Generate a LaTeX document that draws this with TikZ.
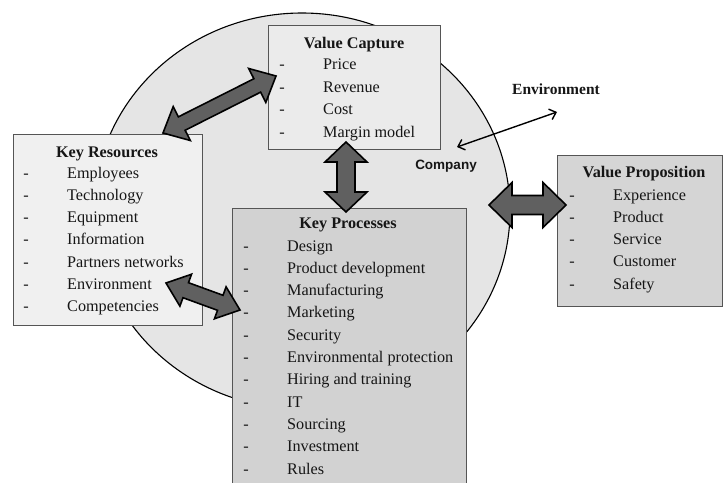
\documentclass[tikz,border=0pt]{standalone}
\usepackage{fontspec}
\setmainfont{Liberation Serif}
\newfontfamily\compfont{Liberation Sans}
\usetikzlibrary{calc,arrows.meta}
\definecolor{circfill}{HTML}{E5E5E5}
\definecolor{vcfill}{HTML}{EBEBEB}
\definecolor{krfill}{HTML}{F0F0F0}
\definecolor{kpfill}{HTML}{D2D2D2}
\definecolor{vpfill}{HTML}{D5D5D5}
\definecolor{boxline}{HTML}{555555}
\definecolor{arrfill}{HTML}{606060}
\definecolor{txt}{HTML}{161616}
\newcommand{\blockarr}[5]{%
  \path ($(#1)!#5!(#2)$) coordinate (ba-a) ($(#2)!#5!(#1)$) coordinate (ba-b);
  \draw[blk] (#1) -- ($(ba-a)!#4!90:(#2)$) -- ($(ba-a)!#3!90:(#2)$)
    -- ($(ba-b)!#3!-90:(#1)$) -- ($(ba-b)!#4!-90:(#1)$) -- (#2)
    -- ($(ba-b)!#4!90:(#1)$) -- ($(ba-b)!#3!90:(#1)$)
    -- ($(ba-a)!#3!-90:(#2)$) -- ($(ba-a)!#4!-90:(#2)$) -- cycle;}
\begin{document}
\begin{tikzpicture}[x=1pt,y=-1pt,
  box/.style={draw=boxline, line width=0.8pt, anchor=north west, inner sep=0pt, outer sep=0pt},
  ttl/.style={font=\fontsize{16.2}{18}\selectfont\bfseries, anchor=base, inner sep=0pt, text=txt},
  itm/.style={font=\fontsize{16.2}{18}\selectfont, anchor=base west, inner sep=0pt, text=txt},
  dsh/.style={font=\fontsize{16.2}{18}\selectfont, anchor=base, inner sep=0pt, text=txt},
  blk/.style={draw=black, line width=1.6pt, fill=arrfill, line join=miter},
  thin/.style={draw=black, line width=1.4pt, {Straight Barb[length=6pt,width=11pt]}-{Straight Barb[length=6pt,width=11pt]}}
]
\useasboundingbox (0,0) rectangle (723,482);
\clip (0,0) rectangle (723,482);
\fill[white] (0,0) rectangle (723,482);
% company circle
\draw[fill=circfill, line width=1.1pt] (302,211) ellipse [x radius=208, y radius=198];
% boxes
\node[box, fill=vcfill, minimum width=172pt, minimum height=124pt] (vc) at (268,25) {};
\node[box, fill=krfill, minimum width=189pt, minimum height=191pt] (kr) at (13,134) {};
\node[box, fill=kpfill, minimum width=234pt, minimum height=300pt] (kp) at (232,208) {};
\node[box, fill=vpfill, minimum width=165pt, minimum height=151pt] (vp) at (557,155) {};
% Value Capture
\node[ttl] (vc-t) at (354,48) {Value Capture};
\foreach \t [count=\i] in {Price,Revenue,Cost,Margin model}{
  \node[dsh] (vc-d\i) at (282,{69.5+(\i-1)*22.6}) {-};
  \node[itm] (vc-\i) at (323,{69.5+(\i-1)*22.6}) {\t};}
% Key Resources
\node[ttl] (kr-t) at (107,157) {Key Resources};
\foreach \t [count=\i] in {Employees,Technology,Equipment,Information,Partners networks,Environment,Competencies}{
  \node[dsh] (kr-d\i) at (26,{178+(\i-1)*22.3}) {-};
  \node[itm] (kr-\i) at (67,{178+(\i-1)*22.3}) {\t};}
% Key Processes
\node[ttl] (kp-t) at (348,228) {Key Processes};
\foreach \t [count=\i] in {Design,Product development,Manufacturing,Marketing,Security,Environmental protection,Hiring and training,IT,Sourcing,Investment,Rules}{
  \node[dsh] (kp-d\i) at (246,{251+(\i-1)*22.3}) {-};
  \node[itm] (kp-\i) at (287,{251+(\i-1)*22.3}) {\t};}
% Value Proposition
\node[ttl] (vp-t) at (644,177) {Value Proposition};
\foreach \t [count=\i] in {Experience,Product,Service,Customer,Safety}{
  \node[dsh] (vp-d\i) at (572,{200+(\i-1)*22.3}) {-};
  \node[itm] (vp-\i) at (613,{200+(\i-1)*22.3}) {\t};}
% labels
\node[font=\compfont\fontsize{13.5}{16}\selectfont\bfseries, text=txt, inner sep=0pt] (comp) at (446,166) {Company};
\node[font=\fontsize{15.5}{17}\selectfont\bfseries, text=txt, inner sep=0pt] (env) at (556,89) {Environment};
% block arrows
\coordinate (a1s) at (163,133); \coordinate (a1e) at (276,76);
\coordinate (a2s) at (346,142); \coordinate (a2e) at (346,212);
\coordinate (a3s) at (166,283); \coordinate (a3e) at (240,310);
\coordinate (a4s) at (489,205); \coordinate (a4e) at (566,205);
\blockarr{a1s}{a1e}{7.5pt}{19pt}{21pt}
\blockarr{a2s}{a2e}{9pt}{21pt}{20pt}
\blockarr{a3s}{a3e}{8pt}{17pt}{21pt}
\blockarr{a4s}{a4e}{9.5pt}{22.5pt}{23pt}
% thin arrow
\coordinate (e1) at (457,147); \coordinate (e2) at (557,112);
\draw[thin] (e1) -- (e2);
\end{tikzpicture}
\end{document}
